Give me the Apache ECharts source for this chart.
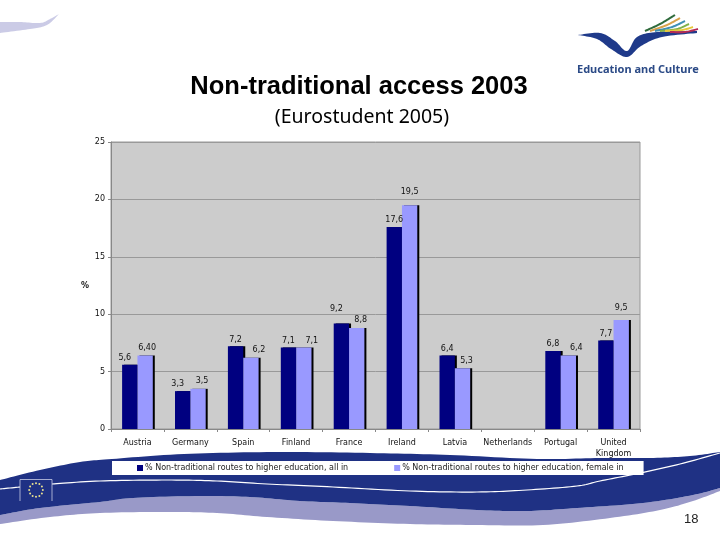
<!DOCTYPE html>
<html>
<head>
<meta charset="UTF-8">
<title>Non-traditional access 2003</title>
<script src="https://cdn.jsdelivr.net/npm/echarts@6/dist/echarts.min.js"></script>
<style>
  html, body { margin: 0; padding: 0; background: #fff; }
</style>
</head>
<body>
<div id="main" style="width: 720px;height:540px;"></div>
<script type="text/javascript">
// data
var countries = ['Austria', 'Germany', 'Spain', 'Finland', 'France', 'Ireland', 'Latvia', 'Netherlands', 'Portugal', 'United\nKingdom'];
var allIn = [5.6, 3.3, 7.2, 7.1, 9.2, 17.6, 6.4, null, 6.8, 7.7];
var femaleIn = [6.4, 3.5, 6.2, 7.1, 8.8, 19.5, 5.3, null, 6.4, 9.5];
var allInLabels = ['5,6', '3,3', '7,2', '7,1', '9,2', '17,6', '6,4', '', '6,8', '7,7'];
var femaleInLabels = ['6,40', '3,5', '6,2', '7,1', '8,8', '19,5', '5,3', '', '6,4', '9,5'];
var seriesNames = ['% Non-traditional routes to higher education, all in', '% Non-traditional routes to higher education, female in'];

// the labels in the original were dragged by hand, so each has its own shift
var allInShift = [[-5, -3], [-5, -3], [0, -2], [0, -3], [-5, -10], [0, -3], [0, -3], [0, 0], [0, -3], [0, -3]];
var femaleInShift = [[2, -4], [4, -4], [8, -4], [8, -3], [4, -4], [0, -9], [4, -3], [0, 0], [8, -4], [0, -8]];

var FONT = 'Tahoma, "DejaVu Sans", sans-serif';

function barData(values, shift) {
  return values.map(function (v, i) {
    return { value: v, label: { offset: shift[i] } };
  });
}

// smooth curve through a list of points, sampled for polygon / polyline
function curve(pts) {
  var out = [];
  for (var i = 0; i < pts.length - 1; i++) {
    var p0 = pts[Math.max(i - 1, 0)], p1 = pts[i], p2 = pts[i + 1], p3 = pts[Math.min(i + 2, pts.length - 1)];
    for (var s = 0; s < 12; s++) {
      var t = s / 12, t2 = t * t, t3 = t2 * t;
      out.push([0, 1].map(function (a) {
        return 0.5 * (2 * p1[a] + (p2[a] - p0[a]) * t + (2 * p0[a] - 5 * p1[a] + 4 * p2[a] - p3[a]) * t2 + (3 * p1[a] - p0[a] - 3 * p2[a] + p3[a]) * t3);
      }));
    }
  }
  out.push(pts[pts.length - 1]);
  return out;
}

function band(top, bottom) {
  return curve(top).concat(curve(bottom).reverse());
}

// slide decoration
var bandTop = [[0, 480], [40, 470], [80, 462], [112, 459], [184, 454], [275, 452], [370, 453], [450, 455], [537, 459], [600, 458], [650, 458], [690, 456], [720, 452]];
var bandMid = [[0, 515], [40, 508], [100, 502], [133, 498], [200, 496], [250, 497], [300, 501], [350, 503], [410, 506], [477, 510], [527, 511], [577, 508], [643, 503], [693, 495], [720, 488]];
var bandLow = [[0, 524], [50, 517], [100, 513], [167, 512], [217, 513], [267, 517], [333, 521], [410, 524], [477, 525], [543, 525], [610, 518], [660, 510], [693, 501], [720, 491]];
var whiteLineLeft = [[0, 489], [20, 487]];
var whiteLine = [[52, 484], [100, 481], [167, 480], [217, 481], [267, 484], [333, 487], [410, 491], [477, 492], [527, 490], [577, 486], [600, 481], [640, 473], [680, 464], [720, 453]];
var cornerTop = [[0, 22], [20, 22], [40, 23], [50, 19], [59, 14]];
var cornerLow = [[0, 33], [30, 29], [47, 25], [59, 14]];
var birdTop = [[578, 35], [600, 33], [615, 41], [627, 51], [637, 37], [657, 32], [697, 31]];
var birdLow = [[578, 35], [597, 39], [611, 49], [627, 57], [641, 46], [662, 37], [697, 33]];
var stripes = [
  ['#2f6b3c', [[645, 31], [660, 24], [675, 15]]],
  ['#d9a24a', [[650, 31], [667, 25], [680, 18]]],
  ['#3f8fb5', [[655, 31], [672, 27], [685, 21]]],
  ['#7fb04a', [[660, 31], [677, 29], [689, 24]]],
  ['#e6c83c', [[665, 31], [682, 30], [693, 27]]],
  ['#b52a55', [[670, 32], [685, 32], [698, 29]]]
];

var decoration = [
  { type: 'polygon', z: 0, shape: { points: band(cornerTop, cornerLow) }, style: { fill: '#cbcbe6' } },
  { type: 'polygon', z: 0, shape: { points: band(bandMid, bandLow) }, style: { fill: '#9999c8' } },
  { type: 'polygon', z: 1, shape: { points: band(bandTop, bandMid) }, style: { fill: '#1f3184' } },
  { type: 'polyline', z: 2, shape: { points: curve(whiteLine) }, style: { fill: null, stroke: '#fff', lineWidth: 1.2 } },
  { type: 'polyline', z: 2, shape: { points: curve(whiteLineLeft) }, style: { fill: null, stroke: '#fff', lineWidth: 1.2 } },
  { type: 'polyline', z: 3, shape: { points: [[20, 501], [20, 479.5], [52, 479.5], [52, 501]] }, style: { fill: null, stroke: '#c8cce4', lineWidth: 0.8 } },
  { type: 'polygon', z: 1, shape: { points: band(birdTop, birdLow) }, style: { fill: '#1f3a8a' } },
  { type: 'text', z: 3, left: 577, top: 64, style: { text: 'Education and Culture', font: 'bold 11px "Noto Sans", sans-serif', fill: '#2b4a86' } },
  { type: 'text', z: 3, left: 684, top: 513, style: { text: '18', font: '13px "Liberation Sans", sans-serif', fill: '#222' } }
];
stripes.forEach(function (s) {
  decoration.push({ type: 'polyline', z: 2, shape: { points: curve(s[1]) }, style: { fill: null, stroke: s[0], lineWidth: 2 } });
});
// twelve stars of the EU flag
for (var k = 0; k < 12; k++) {
  decoration.push({
    type: 'circle', z: 4,
    shape: { cx: 36 + 6.8 * Math.cos(k * Math.PI / 6), cy: 490 + 6.8 * Math.sin(k * Math.PI / 6), r: 1 },
    style: { fill: '#e8e090' }
  });
}

var myChart = echarts.init(document.getElementById('main'));

function barSeries(name, values, shift, color, labels) {
  return {
    name: name,
    type: 'bar',
    barGap: 0,
    barCategoryGap: '42%',
    data: barData(values, shift),
    itemStyle: { color: color, shadowColor: '#000', shadowBlur: 0, shadowOffsetX: 2, shadowOffsetY: 0 },
    label: {
      show: true,
      position: 'top',
      distance: 0,
      fontFamily: FONT,
      fontSize: 8,
      color: '#111',
      formatter: function (p) { return labels[p.dataIndex]; }
    }
  };
}

var option = {
  animation: false,
  backgroundColor: '#fff',
  title: [
    { text: 'Non-traditional access 2003', left: 354, top: 69, textAlign: 'center',
      textStyle: { fontFamily: 'Liberation Sans', fontSize: 25.5, fontWeight: 'bold', color: '#000' } },
    { text: '(Eurostudent 2005)', left: 357, top: 102, textAlign: 'center',
      textStyle: { fontFamily: 'Noto Sans', fontSize: 19.5, fontWeight: 'normal', color: '#000' } }
  ],
  grid: { left: 111, top: 142, width: 529, height: 287, show: true, backgroundColor: '#cccccc', borderColor: '#999', borderWidth: 1 },
  xAxis: {
    type: 'category',
    data: countries,
    axisLine: { lineStyle: { color: '#888' } },
    axisTick: { show: true, length: 3, lineStyle: { color: '#888' } },
    axisLabel: { interval: 0, margin: 8, fontFamily: FONT, fontSize: 8, color: '#111', lineHeight: 11 }
  },
  yAxis: {
    type: 'value',
    min: 0,
    max: 25,
    interval: 5,
    name: '%',
    nameLocation: 'middle',
    nameRotate: 0,
    nameGap: 19,
    nameTextStyle: { fontFamily: FONT, fontSize: 8, fontWeight: 'bold', color: '#111' },
    axisLine: { show: true, lineStyle: { color: '#888' } },
    axisTick: { show: true, length: 3, lineStyle: { color: '#888' } },
    axisLabel: { margin: 6, fontFamily: FONT, fontSize: 8, color: '#111' },
    splitLine: { show: true, lineStyle: { color: '#999', width: 1 } }
  },
  legend: {
    left: 112,
    top: 461,
    padding: [3, 20, 3, 25],
    backgroundColor: '#fff',
    data: seriesNames,
    itemWidth: 6,
    itemHeight: 6,
    itemGap: 46,
    icon: 'rect',
    textStyle: { fontFamily: FONT, fontSize: 8, color: '#222', padding: [0, 0, 0, -3] }
  },
  graphic: { elements: decoration },
  series: [
    barSeries(seriesNames[0], allIn, allInShift, '#000080', allInLabels),
    barSeries(seriesNames[1], femaleIn, femaleInShift, '#9999ff', femaleInLabels)
  ]
};

myChart.setOption(option);
</script>
</body>
</html>
